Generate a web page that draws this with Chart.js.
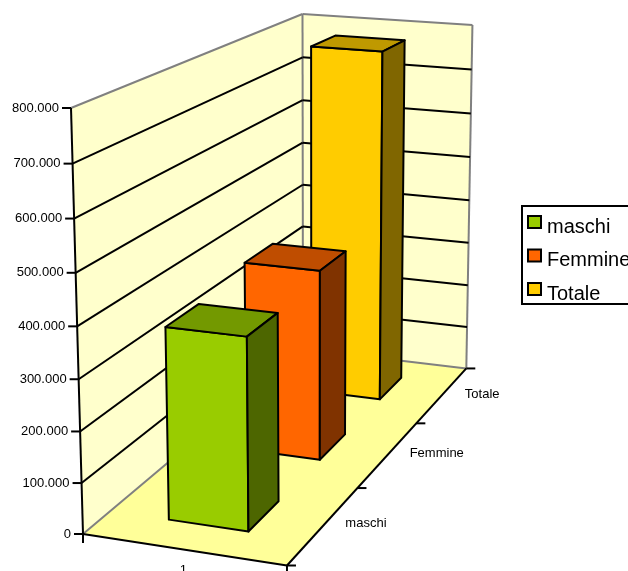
<!DOCTYPE html>
<html lang="it">

<head>
    <meta charset="UTF-8">
    <title>maschi, Femmine, Totale</title>
    <script src="https://cdn.jsdelivr.net/npm/chart.js"></script>
    <style>
        html, body { margin: 0; padding: 0; background: #fff; overflow: hidden; }
        canvas { display: block; }
    </style>
</head>

<body>
    <canvas id="chart3d" width="628" height="571"></canvas>
    <script>
        // Data
        const categories = ['1'];
        const seriesNames = ['maschi', 'Femmine', 'Totale'];
        const maschi = [378000];
        const femmine = [398000];
        const totale = [776000];
        const valueTicks = [0, 100000, 200000, 300000, 400000, 500000, 600000, 700000, 800000];
        const tickLabels = ['0', '100.000', '200.000', '300.000', '400.000', '500.000', '600.000', '700.000', '800.000'];

        // Colours: front, top, side
        const barColors = [
            ['#99CC00', '#739900', '#4D6600'],
            ['#FF6600', '#BF4D00', '#803300'],
            ['#FFCC00', '#BF9900', '#806600']
        ];
        const WALL = '#FFFFCC', FLOOR = '#FFFF99', EDGE = '#808080', INK = '#000000';
        const FONT = 'Liberation Sans, Arial, sans-serif';
        const BAR_SHARE = 0.4; // gap width 150%
        const LINE = 2;

        // Perspective of the box: x across, y up, z into the page, each 0..1
        function project(x, y, z) {
            const w = 1 - 0.033 * x - 0.049 * y + 0.2854 * z;
            return [
                (83 + 194.5 * x - 15.48 * y + 306.5 * z) / w,
                (534 + 12.84 * x - 431.3 * y - 85.4 * z) / w
            ];
        }

        // 0..1 position of a value on one of the chart's scales
        function frac(scale, value) {
            return scale.getDecimalForPixel(scale.getPixelForValue(value));
        }

        function face(ctx, pts, fill, stroke) {
            ctx.beginPath();
            pts.forEach((p, i) => i ? ctx.lineTo(p[0], p[1]) : ctx.moveTo(p[0], p[1]));
            ctx.closePath();
            if (fill) {
                ctx.fillStyle = fill;
                ctx.fill();
            }
            if (stroke) {
                ctx.strokeStyle = stroke;
                ctx.lineWidth = LINE;
                ctx.stroke();
            }
        }

        function line(ctx, a, b, color) {
            ctx.beginPath();
            ctx.moveTo(a[0], a[1]);
            ctx.lineTo(b[0], b[1]);
            ctx.strokeStyle = color;
            ctx.lineWidth = LINE;
            ctx.stroke();
        }

        function label(ctx, text, x, y, align, size) {
            ctx.font = size + 'px ' + FONT;
            ctx.fillStyle = INK;
            ctx.textAlign = align;
            ctx.textBaseline = 'middle';
            ctx.fillText(text, x, y);
        }

        // Bar controller that draws each bar as a box standing in its own depth row
        class Bar3D extends Chart.BarController {
            draw() {
                const ctx = this.chart.ctx;
                const { x: xScale, y: yScale, z: zScale } = this.chart.scales;
                const colors = barColors[this.index];
                const halfX = BAR_SHARE / 2;
                const halfZ = BAR_SHARE / zScale.getLabels().length / 2;
                const xc = frac(xScale, 0);
                const zc = frac(zScale, this.index);
                const top = frac(yScale, this.getParsed(0).y);
                const x0 = xc - halfX, x1 = xc + halfX, z0 = zc - halfZ, z1 = zc + halfZ;

                ctx.save();
                ctx.lineJoin = 'round';
                face(ctx, [project(x0, 0, z0), project(x1, 0, z0), project(x1, top, z0), project(x0, top, z0)], colors[0], INK);
                face(ctx, [project(x0, top, z0), project(x1, top, z0), project(x1, top, z1), project(x0, top, z1)], colors[1], INK);
                face(ctx, [project(x1, 0, z0), project(x1, 0, z1), project(x1, top, z1), project(x1, top, z0)], colors[2], INK);
                ctx.restore();
            }
        }
        Bar3D.id = 'bar3d';
        Bar3D.defaults = Chart.BarController.defaults;
        Bar3D.overrides = Chart.BarController.overrides;
        Chart.register(Bar3D);

        const box3d = {
            id: 'box3d',
            beforeDatasetsDraw(chart) {
                const ctx = chart.ctx;
                const yScale = chart.scales.y;
                ctx.save();
                ctx.lineJoin = 'round';
                // walls and floor
                face(ctx, [project(0, 0, 0), project(0, 1, 0), project(0, 1, 1), project(0, 0, 1)], WALL);
                face(ctx, [project(0, 0, 1), project(0, 1, 1), project(1, 1, 1), project(1, 0, 1)], WALL);
                face(ctx, [project(0, 0, 0), project(0, 0, 1), project(1, 0, 1), project(1, 0, 0)], FLOOR);
                line(ctx, project(0, 1, 0), project(0, 1, 1), EDGE);
                line(ctx, project(0, 1, 1), project(1, 1, 1), EDGE);
                line(ctx, project(1, 1, 1), project(1, 0, 1), EDGE);
                line(ctx, project(0, 1, 1), project(0, 0, 1), EDGE);
                line(ctx, project(0, 0, 1), project(1, 0, 1), EDGE);
                line(ctx, project(0, 0, 0), project(0, 0, 1), EDGE);

                // gridlines and value axis
                valueTicks.forEach((v, i) => {
                    const y = frac(yScale, v);
                    const p = project(0, y, 0);
                    if (i > 0 && i < valueTicks.length - 1) {
                        line(ctx, p, project(0, y, 1), INK);
                        line(ctx, project(0, y, 1), project(1, y, 1), INK);
                    }
                    line(ctx, [p[0] - 9, p[1]], p, INK);
                    label(ctx, tickLabels[i], p[0] - 12, p[1], 'right', 13);
                });
                line(ctx, project(0, 0, 0), project(0, 1, 0), INK);

                // floor edges with their ticks
                line(ctx, project(0, 0, 0), project(1, 0, 0), INK);
                line(ctx, project(1, 0, 0), project(1, 0, 1), INK);
                [0, 1].forEach(x => {
                    const p = project(x, 0, 0);
                    line(ctx, p, [p[0], p[1] + 9], INK);
                });
                for (let k = 0; k <= seriesNames.length; k++) {
                    const p = project(1, 0, k / seriesNames.length);
                    line(ctx, p, [p[0] + 9, p[1]], INK);
                }
                ctx.restore();
            },
            afterDatasetsDraw(chart) {
                const ctx = chart.ctx;
                const { x: xScale, z: zScale } = chart.scales;
                ctx.save();
                // category and series labels
                const c = project(frac(xScale, 0), 0, 0);
                label(ctx, categories[0], c[0], c[1] + 21, 'center', 13);
                seriesNames.forEach((name, i) => {
                    const p = project(1, 0, frac(zScale, i));
                    label(ctx, name, p[0] + 21.5 + (i === 2 ? 1 : 0), p[1] - 2 + i, 'left', 13);
                });

                // legend, runs off the right edge like the original
                ctx.lineJoin = 'miter';
                ctx.strokeStyle = INK;
                ctx.lineWidth = LINE;
                ctx.strokeRect(522, 206, 130, 98);
                chart.data.datasets.forEach((ds, i) => {
                    const y = 222 + i * 33.5;
                    ctx.fillStyle = barColors[i][0];
                    ctx.fillRect(528, y - 6, 13, 12);
                    ctx.strokeRect(528, y - 6, 13, 12);
                    label(ctx, ds.label, 547, y + 5, 'left', 20);
                });
                ctx.restore();
            }
        };

        new Chart(document.getElementById('chart3d'), {
            type: 'bar3d',
            data: {
                labels: categories,
                datasets: [
                    { label: seriesNames[0], data: maschi, clip: false },
                    { label: seriesNames[1], data: femmine, clip: false },
                    { label: seriesNames[2], data: totale, clip: false }
                ]
            },
            options: {
                responsive: false,
                animation: false,
                layout: { padding: 0 },
                plugins: { legend: { display: false }, tooltip: { enabled: false } },
                scales: {
                    x: { type: 'category', offset: true, display: false },
                    y: { type: 'linear', min: valueTicks[0], max: valueTicks[valueTicks.length - 1], display: false },
                    z: { type: 'category', axis: 'x', labels: seriesNames, offset: true, display: false }
                }
            },
            plugins: [box3d]
        });
    </script>
</body>

</html>
